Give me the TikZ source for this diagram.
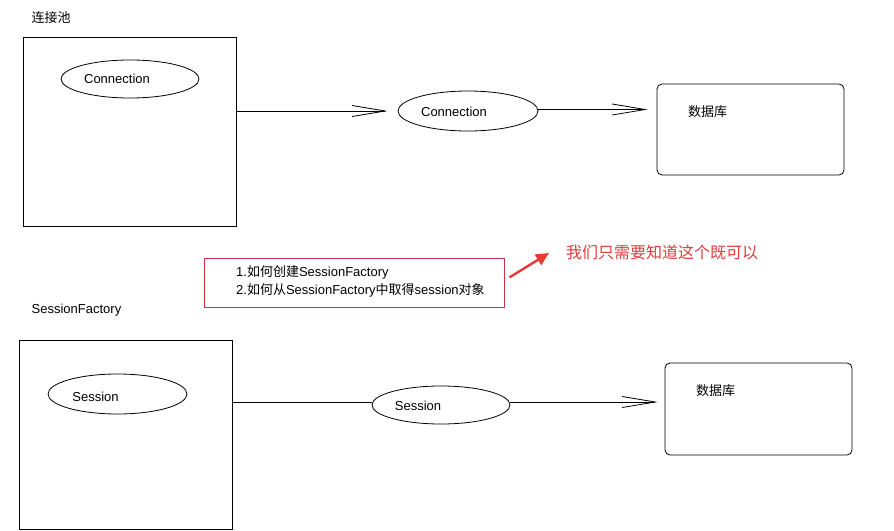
\documentclass[tikz,border=0pt]{standalone}
\usepackage{fontspec}
\setmainfont{Liberation Sans}
\newfontfamily\cjk{Noto Sans CJK SC}
\usetikzlibrary{shapes.geometric,arrows.meta}
\definecolor{boxred}{RGB}{204,51,68}
\definecolor{arrred}{RGB}{232,58,52}
\definecolor{txtred}{RGB}{222,60,60}
\begin{document}
\begin{tikzpicture}[x=1pt,y=-1pt,
  every node/.style={font=\fontsize{13}{18}\selectfont, inner sep=0pt},
  bigbox/.style={draw, line width=0.8pt},
  dbbox/.style={draw, line width=0.8pt, rounded corners=5pt},
  oval/.style={draw, ellipse, line width=0.8pt},
  note/.style={draw=boxred, line width=0.8pt},
  link/.style={line width=0.8pt},
  openarrow/.style={line width=0.8pt, -{Straight Barb[length=33pt,width=11pt,line width=0.8pt]}},
  redarrow/.style={draw=arrred, line width=2.4pt, -{Triangle[length=13pt,width=12pt]}, fill=arrred}
]
\useasboundingbox (0,0) rectangle (894,530);

% top row
\node (poollbl) at (51,18) {\cjk 连接池};
\node[bigbox, minimum width=213pt, minimum height=189pt] (pool) at (129.5,131.5) {};
\node[oval, minimum width=138pt, minimum height=38pt] (conn1) at (130,79) {};
\node (conn1t) at (117,79) {Connection};
\node[oval, minimum width=140pt, minimum height=40pt] (conn2) at (468,111) {};
\node (conn2t) at (454,112) {Connection};
\node[dbbox, minimum width=187pt, minimum height=91pt] (db1) at (750.5,129.5) {};
\node (db1t) at (707.5,112) {\cjk 数据库};

\draw[openarrow, shorten >=10pt] (pool.east |- conn2.west) -- (conn2.west);
\draw[openarrow, shorten >=9pt] ([yshift=1.5pt]conn2.east) -- ([yshift=1.5pt]db1.west |- conn2.east);

% note
\node[note, minimum width=300pt, minimum height=49pt] (note) at (354,282.5) {};
\node[anchor=west, align=left] (notet) at (236,281)
  {1.{\cjk 如何创建}SessionFactory\\2.{\cjk 如何从}SessionFactory{\cjk 中取得}session{\cjk 对象}};
\coordinate (tip) at (549,253);
\draw[redarrow, shorten <=6pt] ([yshift=2pt]note.east) -- (tip);
\node[text=txtred, font=\fontsize{16}{18}\selectfont, anchor=west] (hint) at (566,252) {\cjk 我们只需要知道这个既可以};

% bottom row
\node (sflbl) at (76.5,310) {SessionFactory};
\node[bigbox, minimum width=213pt, minimum height=189pt] (sf) at (125.5,434.5) {};
\node[oval, minimum width=139pt, minimum height=40pt] (sess1) at (117.5,394) {};
\node (sess1t) at (95.5,397) {Session};
\node[oval, minimum width=138pt, minimum height=38pt] (sess2) at (441,405) {};
\node (sess2t) at (418,406) {Session};
\node[dbbox, minimum width=187pt, minimum height=92pt] (db2) at (758.5,409) {};
\node (db2t) at (715.5,391) {\cjk 数据库};

\draw[link] ([yshift=3pt]sf.east |- sess2.west) -- ([yshift=3pt,xshift=0.3pt]sess2.west);
\draw[openarrow, shorten >=7pt] ([yshift=3pt]sess2.east) -- ([yshift=3pt]db2.west |- sess2.east);
\end{tikzpicture}
\end{document}
